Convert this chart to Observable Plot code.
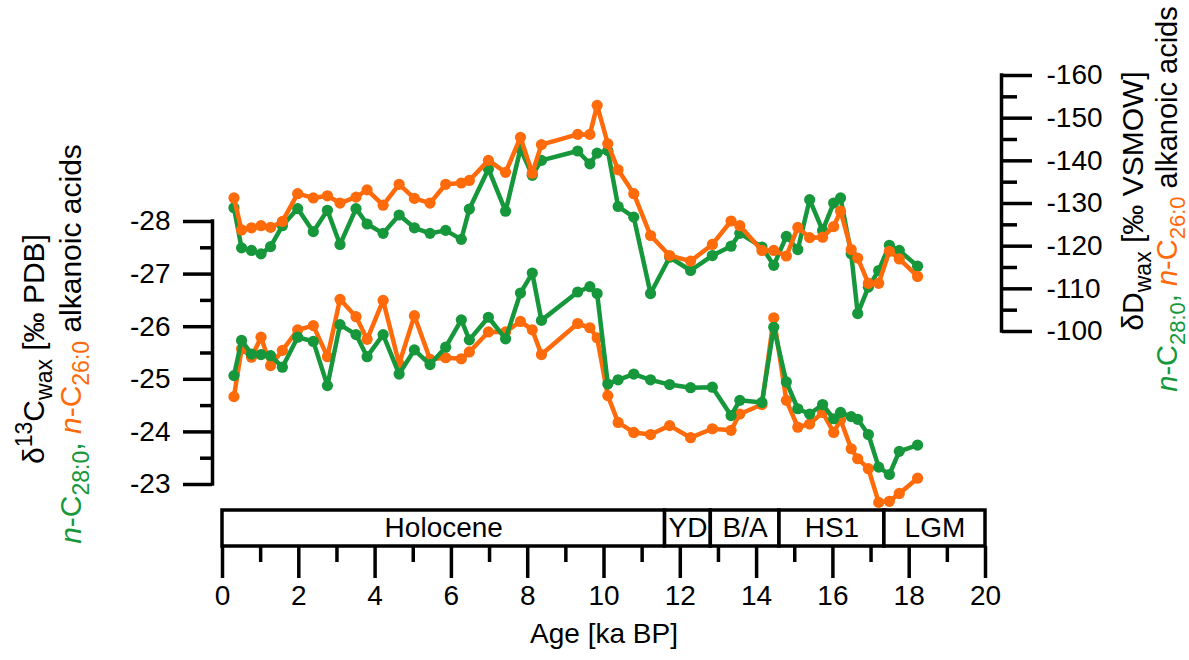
<!DOCTYPE html>
<html><head><meta charset="utf-8">
<script src="https://cdn.jsdelivr.net/npm/d3@7"></script>
<script src="https://cdn.jsdelivr.net/npm/@observablehq/plot@0.6"></script>
<style>
html,body{margin:0;padding:0;background:#fff;}
#chart{position:relative;width:1189px;height:660px;overflow:hidden;}
#chart svg{position:absolute;left:0;top:0;}
</style></head><body><div id="chart"></div>
<script>
// ---- data ----
const ages = [0.3,0.5,0.76,1.01,1.26,1.57,1.97,2.38,2.75,3.08,3.5,3.79,4.21,4.63,5.03,5.44,5.85,6.26,6.47,6.97,7.42,7.81,8.12,8.36,9.31,9.63,9.82,10.1,10.37,10.78,11.22,11.72,12.27,12.84,13.33,13.56,14.14,14.45,14.78,15.08,15.39,15.73,16.02,16.2,16.48,16.65,16.93,17.2,17.48,17.74,18.22];
const d13C_C28 = [-25.07,-25.74,-25.48,-25.47,-25.45,-25.23,-25.80,-25.72,-24.88,-26.04,-25.85,-25.43,-25.85,-25.10,-25.56,-25.28,-25.61,-26.13,-25.75,-26.18,-25.77,-26.64,-27.02,-26.12,-26.66,-26.76,-26.63,-24.91,-24.99,-25.10,-24.99,-24.90,-24.84,-24.85,-24.31,-24.60,-24.56,-25.99,-24.95,-24.44,-24.34,-24.52,-24.25,-24.37,-24.29,-24.24,-23.95,-23.33,-23.19,-23.63,-23.75];
const d13C_C26 = [-24.67,-25.58,-25.42,-25.80,-25.26,-25.55,-25.94,-26.02,-25.43,-26.52,-26.19,-25.76,-26.50,-25.29,-26.21,-25.38,-25.41,-25.39,-25.52,-25.90,-25.90,-26.10,-25.94,-25.47,-26.06,-25.98,-25.79,-24.69,-24.18,-23.99,-23.95,-24.12,-23.89,-24.06,-24.03,-24.34,-24.52,-26.17,-24.60,-24.09,-24.15,-24.37,-23.99,-24.23,-23.68,-23.49,-23.30,-22.66,-22.68,-22.83,-23.12];
const dD_C28 = [-129.0,-119.6,-119.0,-118.2,-119.9,-124.8,-128.8,-123.4,-128.4,-120.4,-128.8,-125.2,-123.0,-127.3,-124.3,-123.0,-123.7,-121.6,-128.7,-138.1,-128.2,-142.8,-136.6,-140.1,-142.3,-139.3,-141.8,-142.4,-129.3,-126.8,-108.9,-117.4,-114.3,-117.8,-120.0,-123.0,-119.8,-115.5,-122.3,-119.2,-130.9,-123.7,-130.1,-131.3,-118.2,-104.2,-110.4,-114.3,-120.2,-119.0,-115.3];
const dD_C26 = [-131.3,-123.8,-124.3,-124.8,-124.4,-125.8,-132.3,-131.3,-131.8,-130.1,-131.5,-133.2,-129.6,-134.5,-131.2,-130.1,-134.5,-134.8,-135.4,-140.1,-137.3,-145.5,-137.1,-143.8,-146.2,-146.2,-153.0,-144.0,-137.9,-132.3,-122.5,-117.8,-116.5,-120.4,-125.9,-124.8,-119.0,-119.0,-117.7,-124.4,-122.0,-122.1,-124.6,-128.2,-119.2,-117.2,-111.3,-111.3,-118.8,-117.0,-112.9];

const periodNames = ["Holocene","YD","B/A","HS1","LGM"];
const periodBounds = [0, 11.6, 12.8, 14.6, 17.35, 20];

const xDomain = [0, 20];
const xMajor = [0,2,4,6,8,10,12,14,16,18,20];
const xMinor = [1,3,5,7,9,11,13,15,17,19];
const c13Major = [-28,-27,-26,-25,-24,-23];
const c13Minor = [-27.5,-26.5,-25.5,-24.5,-23.5];
const dDMajor = [-160,-150,-140,-130,-120,-110,-100];
const dDMinor = [-155,-145,-135,-125,-115,-105];

// ---- styling ----
const GREEN = "#16973b", ORANGE = "#ff6a0a";
const FONT = "'Liberation Sans', Arial, Helvetica, sans-serif";
const SW = 3.5;
const LW = 4.5, R = 5.6;

const c13Rows = ages.map((a, i) => ({age: a, c28: d13C_C28[i], c26: d13C_C26[i]}));
const dDRows = ages.map((a, i) => ({age: a, c28: dD_C28[i], c26: dD_C26[i]}));
const periods = periodNames.map((n, i) => ({name: n, start: periodBounds[i], end: periodBounds[i + 1]}));

const baseStyle = {background: "transparent", fontFamily: FONT, fontSize: "28px", overflow: "visible", color: "black"};

const chartA = Plot.plot({
  width: 1189, height: 660,
  marginLeft: 212, marginRight: 204, marginTop: 510, marginBottom: 114,
  x: {domain: xDomain, range: [222, 985], axis: null},
  y: {domain: [c13Major[0], c13Major[c13Major.length - 1]], range: [221, 484], axis: null},
  style: baseStyle,
  marks: [
    Plot.rect(periods, {x1: "start", x2: "end", fill: "white", stroke: "black", strokeWidth: SW}),
    Plot.text(periods, {x: d => (d.start + d.end) / 2, text: "name", frameAnchor: "middle", fontSize: 28, fill: "black"}),
    Plot.axisX({anchor: "bottom", ticks: xMajor, tickSize: 32, tickPadding: 7, tickFormat: d => String(d), strokeWidth: SW, label: null, fontSize: 28}),
    Plot.axisX({anchor: "bottom", ticks: xMinor, tickSize: 16, tickFormat: () => "", strokeWidth: SW, label: null}),
    Plot.text(["Age [ka BP]"], {x: d3.mean(xDomain), frameAnchor: "bottom", dy: 96, fontSize: 28, fill: "black"}),
    Plot.axisY({anchor: "left", ticks: c13Major, tickSize: 29, tickPadding: 13, tickFormat: d => String(d), strokeWidth: SW, label: null, fontSize: 28}),
    Plot.axisY({anchor: "left", ticks: c13Minor, tickSize: 12, tickFormat: () => "", strokeWidth: SW, label: null}),
    Plot.ruleX([xDomain[0]], {y1: c13Major[0], y2: c13Major[c13Major.length - 1], dx: -10, strokeWidth: SW, strokeLinecap: "square"}),
    Plot.line(c13Rows, {x: "age", y: "c26", stroke: ORANGE, strokeWidth: LW}),
    Plot.dot(c13Rows, {x: "age", y: "c26", r: R, fill: ORANGE}),
    Plot.line(c13Rows, {x: "age", y: "c28", stroke: GREEN, strokeWidth: LW}),
    Plot.dot(c13Rows, {x: "age", y: "c28", r: R, fill: GREEN})
  ]
});

const chartB = Plot.plot({
  width: 1189, height: 660,
  marginLeft: 222, marginRight: 188, marginTop: 75, marginBottom: 329,
  x: {domain: xDomain, range: [222, 985], axis: null},
  y: {domain: [dDMajor[0], dDMajor[dDMajor.length - 1]], range: [75, 331], axis: null},
  style: baseStyle,
  marks: [
    Plot.axisY({anchor: "right", ticks: dDMajor, tickSize: 30, tickPadding: 15, tickFormat: d => String(d), strokeWidth: SW, label: null, fontSize: 28}),
    Plot.axisY({anchor: "right", ticks: dDMinor, tickSize: 15, tickFormat: () => "", strokeWidth: SW, label: null}),
    Plot.ruleX([xDomain[1]], {y1: dDMajor[0], y2: dDMajor[dDMajor.length - 1], dx: 16, strokeWidth: SW, strokeLinecap: "square"}),
    Plot.line(dDRows, {x: "age", y: "c28", stroke: GREEN, strokeWidth: LW}),
    Plot.dot(dDRows, {x: "age", y: "c28", r: R, fill: GREEN}),
    Plot.line(dDRows, {x: "age", y: "c26", stroke: ORANGE, strokeWidth: LW}),
    Plot.dot(dDRows, {x: "age", y: "c26", r: R, fill: ORANGE})
  ]
});

// ---- rotated axis titles (real text with sub/superscripts) ----
function addTitle(svg, x, y, parts, size) {
  const t = d3.select(svg).append("text")
    .attr("transform", `translate(${x},${y}) rotate(-90)`)
    .attr("text-anchor", "middle")
    .attr("font-family", FONT)
    .attr("font-size", size)
    .attr("fill", "black");
  let prev = 0;
  parts.forEach(p => {
    const shift = p.sub ? Math.round(size * 0.27) : p.sup ? -Math.round(size * 0.4) : 0;
    const ts = t.append("tspan").text(p.t);
    if (shift !== prev) ts.attr("dy", shift - prev);
    prev = shift;
    if (p.sub || p.sup) ts.attr("font-size", Math.round(size * 0.77));
    if (p.fill) ts.attr("fill", p.fill);
    if (p.italic) ts.attr("font-style", "italic");
  });
}
const line2 = [
  {t: "n", italic: true, fill: GREEN}, {t: "-C", fill: GREEN}, {t: "28:0", sub: true, fill: GREEN}, {t: ", ", fill: GREEN},
  {t: "n", italic: true, fill: ORANGE}, {t: "-C", fill: ORANGE}, {t: "26:0", sub: true, fill: ORANGE}, {t: " alkanoic acids"}
];
addTitle(chartA, 44, 349, [{t: "δ"}, {t: "13", sup: true}, {t: "C"}, {t: "wax", sub: true}, {t: " [‰ PDB]"}], 30);
addTitle(chartA, 81, 344, line2, 30);
addTitle(chartB, 1143, 201, [{t: "δD"}, {t: "wax", sub: true}, {t: " [‰ VSMOW]"}], 30);
addTitle(chartB, 1177, 199, line2, 29);

const root = document.getElementById("chart");
root.appendChild(chartA);
root.appendChild(chartB);
</script></body></html>
